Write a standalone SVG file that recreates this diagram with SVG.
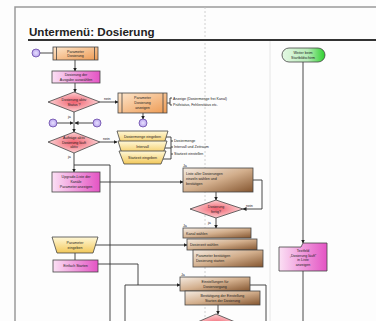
<svg xmlns="http://www.w3.org/2000/svg" width="376" height="321" viewBox="0 0 376 321">
<defs>
<linearGradient id="gOr" x1="0" y1="0" x2="1" y2="1"><stop offset="0" stop-color="#fde6cc"/><stop offset="1" stop-color="#ee9a52"/></linearGradient>
<linearGradient id="gPk" x1="0" y1="0" x2="1" y2="0"><stop offset="0" stop-color="#fbe0f4"/><stop offset="1" stop-color="#e454c4"/></linearGradient>
<radialGradient id="gDi"><stop offset="0" stop-color="#f2606e"/><stop offset="1" stop-color="#fbd2d4"/></radialGradient>
<linearGradient id="gBr" x1="0" y1="0" x2="1" y2="1"><stop offset="0" stop-color="#f6ece2"/><stop offset="0.5" stop-color="#d2ae8c"/><stop offset="1" stop-color="#84552f"/></linearGradient>
<linearGradient id="gYe" x1="0" y1="0" x2="0" y2="1"><stop offset="0" stop-color="#fff8d8"/><stop offset="1" stop-color="#f2c85a"/></linearGradient>
<linearGradient id="gGr" x1="0" y1="0" x2="1" y2="0"><stop offset="0" stop-color="#e4f8e4"/><stop offset="0.6" stop-color="#b8ecb8"/><stop offset="1" stop-color="#2ed02e"/></linearGradient>
<radialGradient id="gCi"><stop offset="0" stop-color="#e8e0ff"/><stop offset="1" stop-color="#b8a4ec"/></radialGradient>
<marker id="ar" markerWidth="4" markerHeight="4" refX="3.5" refY="2" orient="auto" markerUnits="userSpaceOnUse"><path d="M0,0 L4,2 L0,4 Z" fill="#222"/></marker>
</defs>
<style>
.n{stroke:#444;stroke-width:0.8}
.t{font-family:"Liberation Sans",Arial,sans-serif;font-size:3.6px;fill:#222;text-anchor:middle}
.a{font-family:"Liberation Sans",Arial,sans-serif;font-size:3.6px;fill:#222}
.c{fill:none;stroke:#333;stroke-width:0.9}
.ca{fill:none;stroke:#333;stroke-width:0.9;marker-end:url(#ar)}
.ci{fill:url(#gCi);stroke:#6a4aa8;stroke-width:0.8}
</style>
<rect width="376" height="321" fill="#fdfdfd"/>
<g id="frame">
<path d="M15,321 L15,7 L376,7" fill="none" stroke="#9a9a9a" stroke-width="1.5"/>
<line x1="205" y1="7" x2="205" y2="321" stroke="#c4c4c4" stroke-width="0.8" stroke-dasharray="2,2"/>
<line x1="270" y1="41" x2="270" y2="321" stroke="#e0e0e0" stroke-width="0.8"/>
<text x="29" y="35.5" font-family="Liberation Sans,Arial,sans-serif" font-size="11.6" font-weight="bold" fill="#222">Untermenü: Dosierung</text>
<line x1="28" y1="40" x2="376" y2="40" stroke="#333" stroke-width="2"/>
</g>
<g id="connectors">
<line class="c" x1="40" y1="53" x2="53" y2="53"/>
<line class="ca" x1="75" y1="60" x2="75" y2="71"/>
<line class="ca" x1="75" y1="83" x2="75" y2="92"/>
<line class="ca" x1="100" y1="102" x2="118" y2="102"/>
<line class="ca" x1="143" y1="113" x2="143" y2="119"/>
<path class="c" d="M167,103 H170 M170,98 V105 M170,98 H172 M170,105 H172"/>
<line class="ca" x1="74" y1="112" x2="74" y2="132"/>
<line class="ca" x1="57" y1="123" x2="73" y2="123"/>
<line class="ca" x1="93" y1="123" x2="75" y2="123"/>
<line class="ca" x1="100" y1="142" x2="117" y2="142"/>
<path class="c" d="M166,137 H171 M165,148 H171 M163,159 H171 M171,137 V159 M171,141 H173 M171,147 H173 M171,154 H173"/>
<line class="ca" x1="74" y1="153" x2="74" y2="172"/>
<path class="c" d="M74,165 H110 V321"/>
<line class="ca" x1="100" y1="182" x2="183" y2="182"/>
<line class="ca" x1="216" y1="192" x2="216" y2="200"/>
<path class="ca" d="M253,180 H262 V209 H243"/>
<line class="ca" x1="216" y1="218" x2="216" y2="228"/>
<line class="ca" x1="95" y1="245" x2="187" y2="245"/>
<line class="c" x1="75" y1="253" x2="75" y2="260"/>
<path class="c" d="M98,264 H138 V285"/>
<path class="ca" d="M125,321 V285 H180"/>
<path class="c" d="M250,285 H266 V321"/>
<line class="ca" x1="218" y1="305" x2="218" y2="314"/>
<line class="ca" x1="303" y1="62" x2="303" y2="243"/>
<line class="c" x1="303" y1="271" x2="303" y2="321"/>
</g>
<g id="c1"><circle class="ci" cx="36" cy="53" r="4"/></g>
<g id="p1">
<rect class="n" x="53" y="47" width="45" height="13" fill="url(#gOr)"/>
<path class="n" d="M56.5,47 V60 M94.5,47 V60" fill="none"/>
<text class="t" x="75.5" y="52.5">Parameter</text><text class="t" x="75.5" y="57">Dosierung</text>
</g>
<g id="b1">
<rect class="n" x="52" y="71" width="48" height="12" fill="url(#gPk)"/>
<text class="t" x="76" y="76">Dosierung der</text><text class="t" x="76" y="80.5">Ausgabe auswählen</text>
</g>
<g id="d1">
<path class="n" d="M48,102 L74,92 L100,102 L74,112 Z" fill="url(#gDi)"/>
<text class="t" x="74" y="101">Dosierung aktiv</text><text class="t" x="74" y="105.5">Status ?</text>
<text class="a" x="104" y="100">nein</text><text class="a" x="68" y="118">ja</text>
</g>
<g id="p2">
<rect class="n" x="118" y="93" width="49" height="20" fill="url(#gOr)"/>
<path class="n" d="M122,93 V113 M163,93 V113" fill="none"/>
<text class="t" x="142.5" y="99">Parameter</text><text class="t" x="142.5" y="104">Dosierung</text><text class="t" x="142.5" y="109">anzeigen</text>
<text class="a" x="173" y="99.5">Anzeige (Dosiermenge frei Kanal)</text>
<text class="a" x="173" y="106">Prüfstatus, Fehlerstatus etc.</text>
</g>
<g id="c2"><circle class="ci" cx="143" cy="123" r="4"/></g>
<g id="c3"><circle class="ci" cx="53" cy="123" r="4"/></g>
<g id="c4"><circle class="ci" cx="97" cy="123" r="4"/></g>
<g id="d2">
<path class="n" d="M48,142 L74,132 L100,142 L74,153 Z" fill="url(#gDi)"/>
<text class="t" x="74" y="139">Aufträge aktiv</text><text class="t" x="74" y="143.5">Dosierung läuft</text><text class="t" x="74" y="148">aktiv</text>
<text class="a" x="103" y="140">nein</text><text class="a" x="68" y="158">ja</text>
</g>
<g id="m1">
<path class="n" d="M117,131 H168 L164,144 H121 Z" fill="url(#gYe)"/>
<path class="n" d="M118,141 H167 L163,154 H122 Z" fill="url(#gYe)"/>
<path class="n" d="M119,151 H166 L161,164 H124 Z" fill="url(#gYe)"/>
<text class="t" x="142.5" y="137.5">Dosiermenge eingeben</text>
<text class="t" x="142.5" y="148">Intervall</text>
<text class="t" x="142.5" y="159">Startzeit eingeben</text>
<text class="a" x="174" y="142">Dosiermenge</text>
<text class="a" x="174" y="148">Intervall und Zeitraum</text>
<text class="a" x="174" y="155">Startzeit einstellen</text>
</g>
<g id="b2">
<rect class="n" x="52" y="172" width="48" height="20" fill="url(#gPk)"/>
<text class="t" x="76" y="178">Upgrade-Liste der</text><text class="t" x="76" y="183">Kanäle</text><text class="t" x="76" y="188">Parameter anzeigen</text>
</g>
<g id="r1">
<text class="a" x="183" y="166.5">Ja</text>
<rect class="n" x="183" y="168" width="70" height="24" fill="url(#gBr)"/>
<text class="a" x="186" y="174.5">Liste aller Dosierungen</text><text class="a" x="186" y="179.5">einzeln wählen und</text><text class="a" x="186" y="184.5">bestätigen</text>
</g>
<g id="d3">
<path class="n" d="M190,209 L216,200 L243,209 L216,218 Z" fill="url(#gDi)"/>
<text class="t" x="216" y="208">Dosierung</text><text class="t" x="216" y="212.5">fertig?</text>
<text class="a" x="246" y="207">nein</text><text class="a" x="208" y="224">ja</text>
</g>
<g id="r2">
<text class="a" x="183" y="226.5">Ja</text>
<rect class="n" x="183" y="228" width="68" height="10" fill="url(#gBr)"/>
<text class="a" x="186" y="234.5">Kanal wählen</text>
<rect class="n" x="187" y="239" width="70" height="11" fill="url(#gBr)"/>
<text class="a" x="190" y="245.5">Dosierzeit wählen</text>
<rect class="n" x="193" y="250" width="70" height="17" fill="url(#gBr)"/>
<text class="a" x="196" y="256.5">Parameter bestätigen</text><text class="a" x="196" y="261.5">Dosierung starten</text>
</g>
<g id="m2">
<path class="n" d="M52,237 H98 L93,253 H57 Z" fill="url(#gYe)"/>
<text class="t" x="75" y="244">Parameter</text><text class="t" x="75" y="248.5">eingeben</text>
</g>
<g id="b3">
<rect class="n" x="53" y="260" width="45" height="12" fill="url(#gPk)"/>
<text class="t" x="75.5" y="267.3">Einfach Starten</text>
</g>
<g id="r3">
<text class="a" x="181" y="275.5">Ja</text>
<rect class="n" x="180" y="277" width="70" height="14" fill="url(#gBr)"/>
<text class="t" x="215" y="282.5">Einstellungen für</text><text class="t" x="215" y="287.5">Dosiervorgang</text>
<rect class="n" x="185" y="291" width="75" height="14" fill="url(#gBr)"/>
<text class="t" x="222.5" y="296.5">Bestätigung der Einstellung</text><text class="t" x="222.5" y="301.5">Starten der Dosierung</text>
</g>
<g id="d4">
<path class="n" d="M193,324 L216,314 L240,324 L216,334 Z" fill="url(#gDi)"/>
</g>
<g id="s1">
<rect class="n" x="282" y="48" width="43" height="14" rx="7" fill="url(#gGr)"/>
<text class="t" x="303" y="54">Weiter beim</text><text class="t" x="303" y="58.5">Startbildschirm</text>
</g>
<g id="b4">
<path class="n" d="M279,247 H301 L303,243 H327 V271 H279 Z" fill="url(#gPk)"/>
<text class="t" x="303" y="252">Textfeld</text><text class="t" x="303" y="256.5">„Dosierung läuft“</text><text class="t" x="303" y="261">in Liste</text><text class="t" x="303" y="265.5">anzeigen</text>
</g>
</svg>
